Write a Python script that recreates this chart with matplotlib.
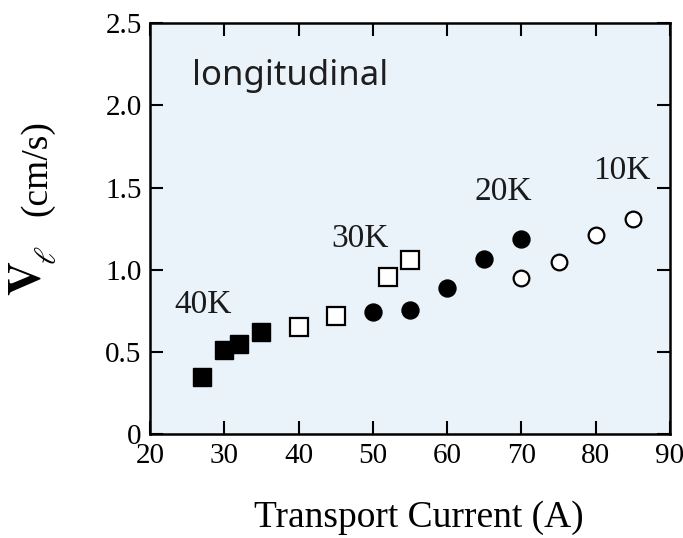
import matplotlib
matplotlib.use("Agg")
import matplotlib.pyplot as plt

# Data
x_40K = [27, 30, 32, 35]
y_40K = [0.35, 0.51, 0.55, 0.62]
x_30K = [40, 45, 52, 55]
y_30K = [0.65, 0.72, 0.955, 1.06]
x_20K = [50, 55, 60, 65, 70]
y_20K = [0.745, 0.755, 0.89, 1.065, 1.19]
x_10K = [70, 75, 80, 85]
y_10K = [0.95, 1.045, 1.21, 1.31]

labels = ["40K", "30K", "20K", "10K"]
label_pos = [(27.1, 0.79), (48.3, 1.19), (67.6, 1.475), (83.5, 1.60)]

xticks = [20, 30, 40, 50, 60, 70, 80, 90]
yticks = [0, 0.5, 1.0, 1.5, 2.0, 2.5]
yticklabels = ["0", "0.5", "1.0", "1.5", "2.0", "2.5"]

plt.rcParams['mathtext.fontset'] = 'stix'
serif = 'Liberation Serif'

fig = plt.figure(figsize=(6.83, 5.38), dpi=100)
ax = fig.add_axes([0.2196, 0.1928, 0.7614, 0.7642])
ax.set_facecolor('#eaf2fa')

ax.plot(x_40K, y_40K, 's', ms=13.5, color='black', mec='black', zorder=3)
ax.plot(x_30K, y_30K, 's', ms=12.5, mfc='white', mec='black', mew=1.6, zorder=3)
ax.plot(x_20K, y_20K, 'o', ms=12.2, color='black', zorder=3)
ax.plot(x_10K, y_10K, 'o', ms=11.3, mfc='white', mec='black', mew=1.6, zorder=3)

for lab, (lx, ly) in zip(labels, label_pos):
    ax.text(lx, ly, lab, fontsize=24, family=serif, ha='center', va='center',
            color='#1a1a1a')

ax.text(25.7, 2.125, "longitudinal", fontsize=25, family='Noto Sans',
        ha='left', va='baseline', color='#1e1e1e')

ax.set_xlim(20, 90)
ax.set_ylim(0, 2.5)
ax.set_xticks(xticks)
ax.set_yticks(yticks)
ax.set_yticklabels(yticklabels)
ax.tick_params(direction='in', length=9.5, width=1.5, top=True, right=True,
               labelsize=21, pad=6)
for lbl in ax.get_xticklabels() + ax.get_yticklabels():
    lbl.set_family(serif)
for s in ax.spines.values():
    s.set_linewidth(1.8)

ax.set_xlabel("Transport Current (A)", fontsize=27, family=serif, va='baseline')
ax.xaxis.set_label_coords((419 - 150) / 520, (434.3 - 527) / 411.1)

fig.text(27 / 683, 1 - 278 / 538, r'$\mathbf{V}$', fontsize=34, rotation=90,
         ha='center', va='center')
fig.text(47 / 683, 1 - 255 / 538, r'$\ell$', fontsize=22, rotation=90,
         ha='center', va='center')
fig.text(37 / 683, 1 - 168 / 538, "(cm/s)", fontsize=27, family=serif, rotation=90,
         ha='center', va='center')

fig.savefig("out.png", dpi=100)
